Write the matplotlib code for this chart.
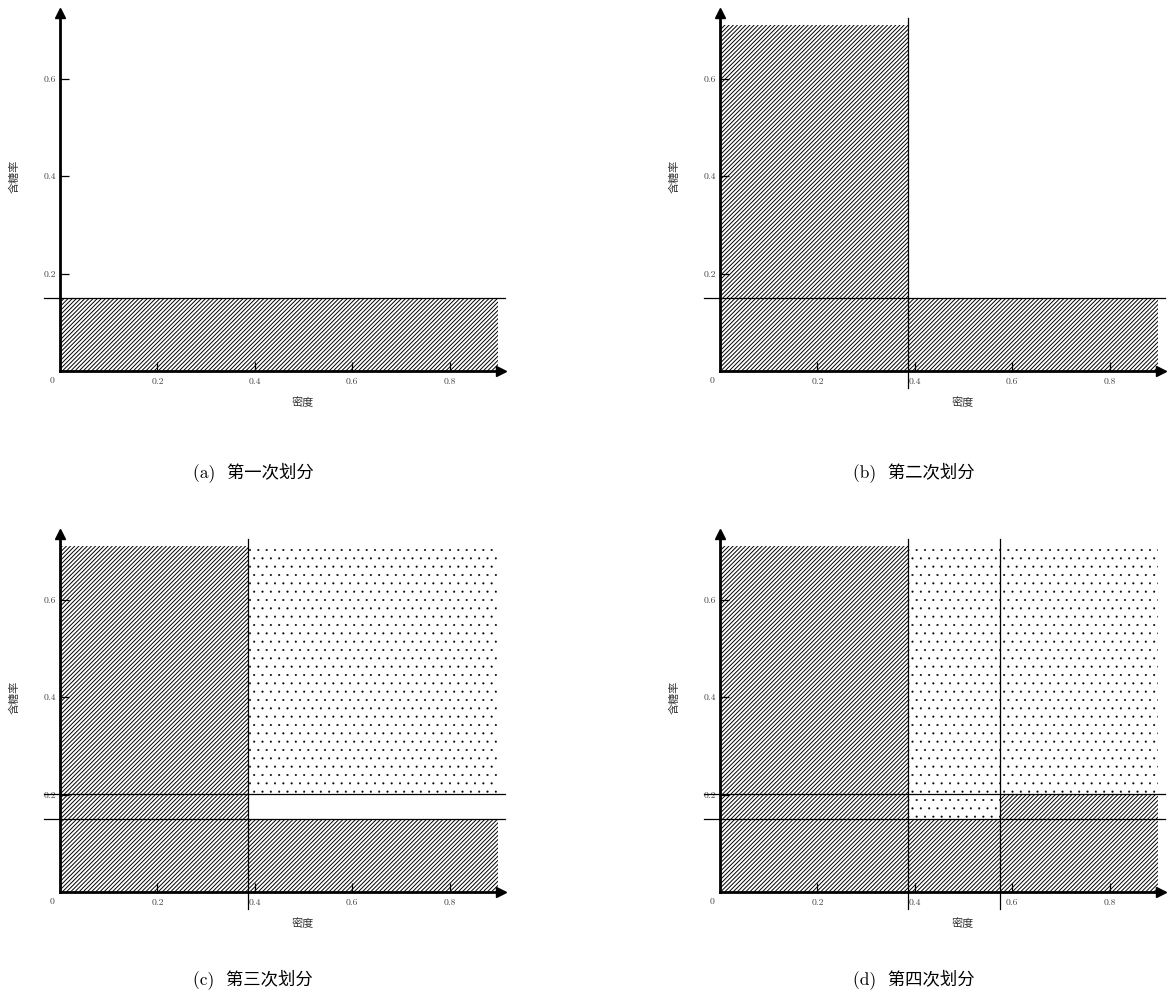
import matplotlib
matplotlib.use("Agg")
import matplotlib.pyplot as plt
from matplotlib.patches import Rectangle

plt.rcParams['font.family'] = ['Noto Sans CJK SC', 'DejaVu Sans']

# split values
sugar_cut1 = 0.15      # 1st split on 含糖率
density_cut2 = 0.387   # 2nd split on 密度
sugar_cut3 = 0.202     # 3rd split on 含糖率
density_cut4 = 0.574   # 4th split on 密度
density_max = 0.9
sugar_max = 0.711

x_ticks = [0.2, 0.4, 0.6, 0.8]
y_ticks = [0.2, 0.4, 0.6]
captions = ['(a)  第一次划分', '(b)  第二次划分', '(c)  第三次划分', '(d)  第四次划分']

# regions per panel: (x0, x1, y0, y1, fill)
panels = [
    dict(regions=[(0, density_max, 0, sugar_cut1, 'h')],
         hlines=[sugar_cut1], vlines=[]),
    dict(regions=[(0, density_cut2, 0, sugar_max, 'h'),
                  (density_cut2, density_max, 0, sugar_cut1, 'h')],
         hlines=[sugar_cut1], vlines=[density_cut2]),
    dict(regions=[(0, density_cut2, 0, sugar_max, 'h'),
                  (density_cut2, density_max, 0, sugar_cut1, 'h'),
                  (density_cut2, density_max, sugar_cut3, sugar_max, 'd')],
         hlines=[sugar_cut1, sugar_cut3], vlines=[density_cut2]),
    dict(regions=[(0, density_cut2, 0, sugar_max, 'h'),
                  (density_cut2, density_max, 0, sugar_cut1, 'h'),
                  (density_cut4, density_max, sugar_cut1, sugar_cut3, 'h'),
                  (density_cut2, density_max, sugar_cut3, sugar_max, 'd'),
                  (density_cut2, density_cut4, sugar_cut1, sugar_cut3, 'd')],
         hlines=[sugar_cut1, sugar_cut3], vlines=[density_cut2, density_cut4]),
]

W, H = 1173, 1008
scale = 487.0  # pixels per data unit
origins = [(60, 371), (720, 371), (60, 892), (720, 892)]
caption_pos = [(253, 473), (914, 473), (253, 980), (914, 980)]
xlim = (-0.1, 0.95)
ylim = (-0.1, 0.76)

serif = ['cmr10', 'DejaVu Serif']
fill_style = {'h': ('////////', 0.7), 'd': ('..', 0.25)}

fig = plt.figure(figsize=(W / 100, H / 100), dpi=100)

for p, (ox, oy), (cx, cy), cap in zip(panels, origins, caption_pos, captions):
    left = ox + xlim[0] * scale
    top = oy - ylim[1] * scale
    w = (xlim[1] - xlim[0]) * scale
    h = (ylim[1] - ylim[0]) * scale
    ax = fig.add_axes([left / W, 1 - (top + h) / H, w / W, h / H])
    ax.set_xlim(*xlim)
    ax.set_ylim(*ylim)

    for x0, x1, y0, y1, kind in p['regions']:
        hatch, hlw = fill_style[kind]
        plt.rcParams['hatch.linewidth'] = hlw
        rect = Rectangle((x0, y0), x1 - x0, y1 - y0, facecolor='white',
                         edgecolor='black', linewidth=0, hatch=hatch)
        if hasattr(rect, 'set_hatch_linewidth'):
            rect.set_hatch_linewidth(hlw)
        ax.add_patch(rect)
    for yv in p['hlines']:
        ax.plot([-0.033, 0.913], [yv, yv], color='black', lw=0.9, clip_on=False)
    for xv in p['vlines']:
        ax.plot([xv, xv], [-0.034, 0.725], color='black', lw=0.9, clip_on=False)

    for s in ['top', 'right']:
        ax.spines[s].set_visible(False)
    ax.spines['left'].set_position(('data', 0))
    ax.spines['bottom'].set_position(('data', 0))
    ax.spines['left'].set_bounds(0, 0.735)
    ax.spines['bottom'].set_bounds(0, 0.905)
    ax.spines['left'].set_linewidth(2)
    ax.spines['bottom'].set_linewidth(2)
    ax.plot([0], [0.735], marker='^', color='black', ms=7, clip_on=False)
    ax.plot([0.905], [0], marker='>', color='black', ms=7, clip_on=False)

    ax.set_xticks(x_ticks)
    ax.set_xticklabels([str(t) for t in x_ticks], family=serif, color='#444444')
    ax.set_yticks(y_ticks)
    ax.set_yticklabels([str(t) for t in y_ticks], family=serif, color='#444444')
    ax.tick_params(axis='x', direction='in', length=6.5, width=0.9, labelsize=7, pad=4.5)
    ax.tick_params(axis='y', direction='in', length=6.5, width=0.9, labelsize=7, pad=3)
    ax.text(-0.017, -0.02, '0', family=serif, fontsize=7, color='#444444',
            ha='center', va='center')

    ax.text(-0.093, 0.4, '含糖率', rotation=90, fontsize=8, color='#333333',
            ha='center', va='center')
    ax.text(0.499, -0.064, '密度', fontsize=8, color='#333333',
            ha='center', va='center')

    fig.text(cx / W, 1 - cy / H, cap, family=serif[:1] + ['Noto Sans CJK SC'],
             fontsize=12.5, ha='center', va='center')

fig.savefig('out.png', dpi=100)
